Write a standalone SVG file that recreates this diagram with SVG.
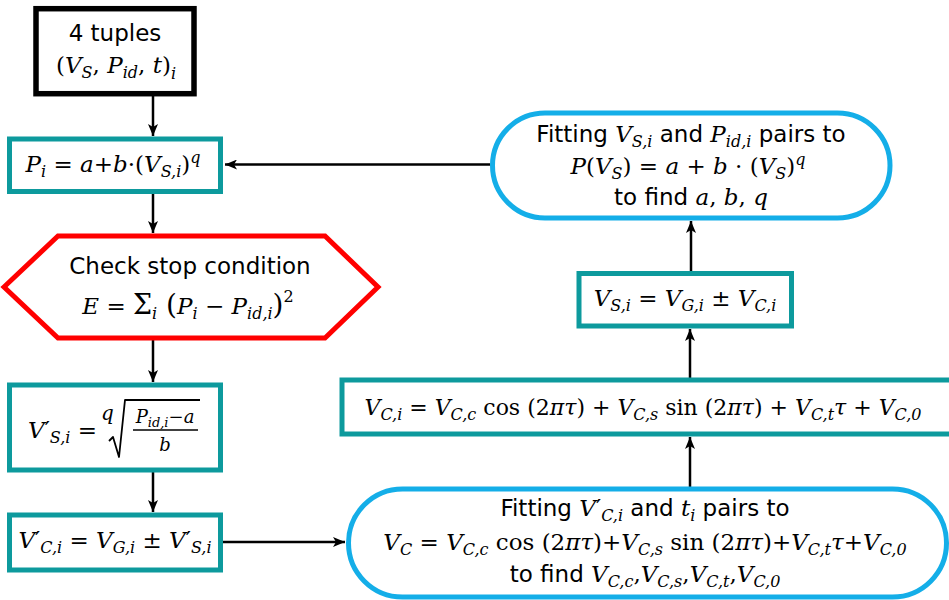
<svg xmlns="http://www.w3.org/2000/svg" width="949" height="600" viewBox="0 0 949 600">
<style>
.tx{font-family:"DejaVu Sans",sans-serif;font-size:23px;fill:#000}
.m{font-family:"DejaVu Serif",serif;font-size:23px;font-style:italic;fill:#000}
.u{font-style:normal}
.s{font-size:16px}
.pr{font-family:"DejaVu Sans",sans-serif;font-style:normal}
.teal{fill:#fff;stroke:#0d9a9d;stroke-width:5}
.blue{fill:#fff;stroke:#14aee8;stroke-width:5}
.con{stroke:#000;stroke-width:2.5;fill:none}
</style>
<defs>
<marker id="ah" markerUnits="userSpaceOnUse" markerWidth="13" markerHeight="10" refX="12" refY="5" orient="auto">
<path d="M0,0 L12,5 L0,10 L3,5 z" fill="#000"/>
</marker>
</defs>
<rect width="949" height="600" fill="#fff"/>

<g id="connectors">
<line class="con" x1="153" y1="96" x2="153" y2="136" marker-end="url(#ah)"/>
<line class="con" x1="153" y1="193" x2="153" y2="233" marker-end="url(#ah)"/>
<line class="con" x1="153" y1="340" x2="153" y2="382" marker-end="url(#ah)"/>
<line class="con" x1="153" y1="472" x2="153" y2="512" marker-end="url(#ah)"/>
<line class="con" x1="223" y1="542" x2="345" y2="542" marker-end="url(#ah)"/>
<line class="con" x1="690" y1="487" x2="690" y2="437" marker-end="url(#ah)"/>
<line class="con" x1="690" y1="378" x2="690" y2="329" marker-end="url(#ah)"/>
<line class="con" x1="691" y1="271" x2="691" y2="221" marker-end="url(#ah)"/>
<line class="con" x1="490" y1="164.5" x2="225" y2="164.5" marker-end="url(#ah)"/>
</g>

<g id="n1">
<rect x="36" y="8.7" width="158" height="85" fill="#fff" stroke="#000" stroke-width="5.5"/>
<text class="tx" x="115" y="41" text-anchor="middle">4 tuples</text>
<text class="m" x="116" y="73" text-anchor="middle"><tspan class="u">(</tspan>V<tspan class="s" dy="5">S</tspan><tspan class="u" dy="-5">, </tspan>P<tspan class="s" dy="5">id</tspan><tspan class="u" dy="-5">, </tspan>t<tspan class="u">)</tspan><tspan class="s" dy="6">i</tspan></text>
</g>

<g id="n2">
<rect class="teal" x="9.5" y="139" width="211" height="52.5"/>
<text class="m" x="113" y="172" text-anchor="middle">P<tspan class="s" dy="5">i</tspan><tspan class="u" dy="-5"> = </tspan>a<tspan class="u">+</tspan>b<tspan class="u">·(</tspan>V<tspan class="s" dy="5">S,i</tspan><tspan class="u" dy="-5">)</tspan><tspan class="s" dy="-9">q</tspan></text>
</g>

<g id="n3">
<polygon points="4,287 58,236 325,236 378,287 325,338 58,338" fill="#fff" stroke="#ff0000" stroke-width="5"/>
<text class="tx" x="190" y="274" text-anchor="middle">Check stop condition</text>
<text class="m" x="188" y="314" text-anchor="middle">E<tspan class="u"> = </tspan><tspan class="u" style="font-size:27px">Σ</tspan><tspan class="s" dy="5">i</tspan><tspan class="u" dy="-5" style="font-size:28px"> (</tspan>P<tspan class="s" dy="5">i</tspan><tspan class="u" dy="-5"> − </tspan>P<tspan class="s" dy="5">id,i</tspan><tspan class="u" dy="-5" style="font-size:28px">)</tspan><tspan class="s u" dy="-12">2</tspan></text>
</g>

<g id="n4">
<rect class="teal" x="9.5" y="385" width="211" height="85"/>
<text class="m" x="28" y="438">V<tspan class="pr">′</tspan><tspan class="s" dy="5">S,i</tspan><tspan class="u" dy="-5"> = </tspan></text>
<text class="m" x="101" y="420" style="font-size:20px">q</text>
<polyline points="109,441 113,437 119,457 125,400 200,400" fill="none" stroke="#000" stroke-width="1.8" stroke-linejoin="round"/>
<text class="m" x="165" y="423" text-anchor="middle" style="font-size:18px">P<tspan style="font-size:13px" dy="4">id,i</tspan><tspan class="u" dy="-4">−</tspan>a</text>
<line x1="133" y1="430" x2="198" y2="430" stroke="#000" stroke-width="1.5"/>
<text class="m" x="165" y="451" text-anchor="middle" style="font-size:18px">b</text>
</g>

<g id="n5">
<rect class="teal" x="9.5" y="515" width="211" height="55"/>
<text class="m" x="115" y="548" text-anchor="middle">V<tspan class="pr">′</tspan><tspan class="s" dy="5">C,i</tspan><tspan class="u" dy="-5"> = </tspan>V<tspan class="s" dy="5">G,i</tspan><tspan class="u" dy="-5"> ± </tspan>V<tspan class="pr">′</tspan><tspan class="s" dy="5">S,i</tspan></text>
</g>

<g id="n6">
<rect class="blue" x="348.5" y="489" width="598" height="108" rx="54"/>
<text class="tx" x="645" y="516" text-anchor="middle">Fitting <tspan class="m">V</tspan><tspan class="m pr">′</tspan><tspan class="m s" dy="5">C,i</tspan><tspan dy="-5"> and </tspan><tspan class="m">t</tspan><tspan class="m s" dy="5">i</tspan><tspan dy="-5"> pairs to</tspan></text>
<text class="m" x="645" y="550" text-anchor="middle">V<tspan class="s" dy="5">C</tspan><tspan class="u" dy="-5"> = </tspan>V<tspan class="s" dy="5">C,c</tspan><tspan class="u" dy="-5"> cos (2</tspan>πτ<tspan class="u">)+</tspan>V<tspan class="s" dy="5">C,s</tspan><tspan class="u" dy="-5"> sin (2</tspan>πτ<tspan class="u">)+</tspan>V<tspan class="s" dy="5">C,t</tspan><tspan dy="-5">τ</tspan><tspan class="u">+</tspan>V<tspan class="s" dy="5">C,0</tspan></text>
<text class="tx" x="645" y="582" text-anchor="middle">to find <tspan class="m">V</tspan><tspan class="m s" dy="5">C,c</tspan><tspan class="m u" dy="-5">,</tspan><tspan class="m">V</tspan><tspan class="m s" dy="5">C,s</tspan><tspan class="m u" dy="-5">,</tspan><tspan class="m">V</tspan><tspan class="m s" dy="5">C,t</tspan><tspan class="m u" dy="-5">,</tspan><tspan class="m">V</tspan><tspan class="m s" dy="5">C,0</tspan></text>
</g>

<g id="n7">
<rect class="teal" x="342" y="380" width="620" height="54"/>
<text class="m" x="643" y="415" text-anchor="middle" style="font-size:22px">V<tspan class="s" dy="5">C,i</tspan><tspan class="u" dy="-5"> = </tspan>V<tspan class="s" dy="5">C,c</tspan><tspan class="u" dy="-5"> cos (2</tspan>πτ<tspan class="u">) + </tspan>V<tspan class="s" dy="5">C,s</tspan><tspan class="u" dy="-5"> sin (2</tspan>πτ<tspan class="u">) + </tspan>V<tspan class="s" dy="5">C,t</tspan><tspan dy="-5">τ</tspan><tspan class="u"> + </tspan>V<tspan class="s" dy="5">C,0</tspan></text>
</g>

<g id="n8">
<rect class="teal" x="579" y="273.5" width="212.5" height="52.5"/>
<text class="m" x="685" y="306" text-anchor="middle">V<tspan class="s" dy="5">S,i</tspan><tspan class="u" dy="-5"> = </tspan>V<tspan class="s" dy="5">G,i</tspan><tspan class="u" dy="-5"> ± </tspan>V<tspan class="s" dy="5">C,i</tspan></text>
</g>

<g id="n9">
<rect class="blue" x="492.5" y="113" width="397.5" height="105" rx="52.5"/>
<text class="tx" x="691" y="142" text-anchor="middle">Fitting <tspan class="m">V</tspan><tspan class="m s" dy="5">S,i</tspan><tspan dy="-5"> and </tspan><tspan class="m">P</tspan><tspan class="m s" dy="5">id,i</tspan><tspan dy="-5"> pairs to</tspan></text>
<text class="m" x="688" y="174" text-anchor="middle">P<tspan class="u">(</tspan>V<tspan class="s" dy="5">S</tspan><tspan class="u" dy="-5">)  =  </tspan>a<tspan class="u">  +  </tspan>b<tspan class="u">  ·  (</tspan>V<tspan class="s" dy="5">S</tspan><tspan class="u" dy="-5">)</tspan><tspan class="s" dy="-9">q</tspan></text>
<text class="tx" x="691" y="205" text-anchor="middle">to find <tspan class="m">a</tspan><tspan class="m u">, </tspan><tspan class="m">b</tspan><tspan class="m u">, </tspan><tspan class="m">q</tspan></text>
</g>
</svg>
